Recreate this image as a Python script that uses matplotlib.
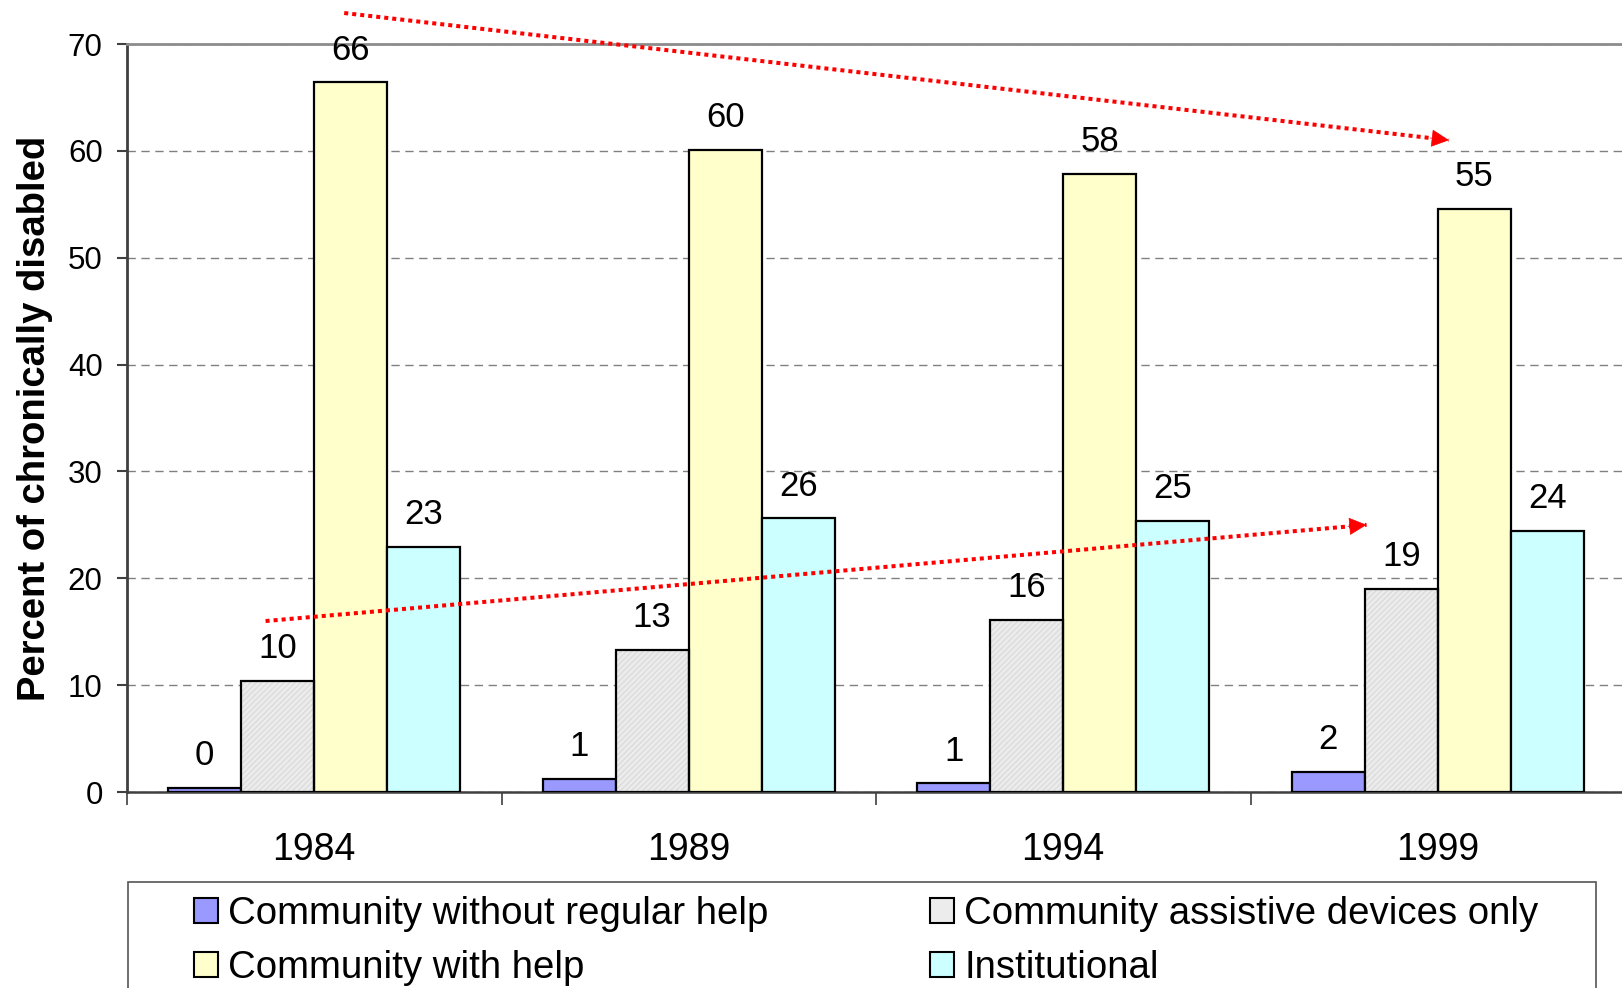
import numpy as np
import matplotlib
matplotlib.use('Agg')
import matplotlib.pyplot as plt
from matplotlib.patches import Patch, Rectangle

# Data
years = ['1984', '1989', '1994', '1999']
series_names = ['Community without regular help', 'Community assistive devices only',
                'Community with help', 'Institutional']
no_regular_help = [0.4, 1.2, 0.8, 1.9]
assistive_only = [10.4, 13.3, 16.1, 19.0]
with_help = [66.4, 60.1, 57.8, 54.6]
institutional = [22.9, 25.6, 25.4, 24.4]

# Trend arrows (data coords: category position, percent)
down_arrow = [(0.08, 72.9), (3.03, 61.0)]
up_arrow = [(-0.13, 16.0), (2.81, 25.0)]

colors = ['#9999FF', '#ECECEC', '#FFFFCC', '#CCFFFF']

plt.rcParams['font.family'] = ['Liberation Sans', 'DejaVu Sans']

W, H = 1622, 988
fig = plt.figure(figsize=(W / 100, H / 100), dpi=100)
fig.patch.set_facecolor('white')
ax = fig.add_axes([127 / W, 1 - 792 / H, (1625 - 127) / W, (792 - 44) / H])

x = np.arange(len(years))
w = 0.195
all_series = [no_regular_help, assistive_only, with_help, institutional]
for i, (vals, col) in enumerate(zip(all_series, colors)):
    pos = x + (i - 1.5) * w
    if i == 1:
        # light hatched fill, then a black outline
        ax.bar(pos, vals, w, color=col, edgecolor='#dcdcdc', linewidth=0,
               hatch='//////', zorder=3)
        ax.bar(pos, vals, w, fill=False, edgecolor='black', linewidth=1.6, zorder=4)
    else:
        ax.bar(pos, vals, w, color=col, edgecolor='black', linewidth=1.6, zorder=3)
    for xp, v in zip(pos, vals):
        ax.annotate(f"{v:.0f}", (xp, v), xytext=(0, 16.5), textcoords='offset points',
                    ha='center', va='baseline', fontsize=25, zorder=5)

ax.set_xlim(-0.5, 3.5)
ax.set_ylim(0, 70)
ax.set_yticks(range(0, 71, 10))
ax.tick_params(axis='y', labelsize=22.5, length=7.5, width=1.5, color='#404040', pad=10)

ax.set_xticks([-0.5, 0.5, 1.5, 2.5, 3.5])
ax.set_xticklabels([])
ax.set_xticks(x, minor=True)
ax.set_xticklabels(years, minor=True)
ax.tick_params(axis='x', which='major', length=9, width=1.2, color='#404040', direction='out')
ax.tick_params(axis='x', which='minor', length=0, labelsize=27, pad=29)

ax.yaxis.grid(True, color='#808080', linestyle=(0, (6, 4)), linewidth=1, zorder=0)
ax.set_axisbelow(True)
ax.spines['right'].set_visible(False)
ax.spines['top'].set_color('#8c8c8c')
ax.spines['top'].set_linewidth(2)
ax.spines['left'].set_color('#404040')
ax.spines['left'].set_linewidth(2)
ax.spines['bottom'].set_color('#404040')
ax.spines['bottom'].set_linewidth(1.8)

ax.set_ylabel('Percent of chronically disabled', fontsize=27.5, fontweight='bold')
ax.yaxis.set_label_coords(-0.0495, 0.5)

# Trend arrows
for (x0, y0), (x1, y1) in [down_arrow, up_arrow]:
    ax.plot([x0, x1], [y0, y1], color='red', linewidth=2.9, linestyle=(0, (1, 1)),
            clip_on=False, zorder=6)
    dx, dy = x1 - x0, y1 - y0
    ax.annotate('', xy=(x1, y1),
                xytext=(x1 - 0.05 * dx / abs(dx), y1 - 0.05 * dy / abs(dx)),
                arrowprops=dict(arrowstyle='-|>', color='red', lw=0.5,
                                mutation_scale=29, shrinkA=0, shrinkB=0),
                annotation_clip=False, zorder=6)

# Legend (row-major order) and its frame
handles = [Patch(facecolor=c, edgecolor='black', linewidth=1.5) for c in colors]
order = [0, 2, 1, 3]
fs = 27.6
fig.legend([handles[i] for i in order], [series_names[i] for i in order],
           loc='upper left', bbox_to_anchor=(194 / W, 1 - 896 / H), ncol=2,
           frameon=False, fontsize=fs, borderpad=0, borderaxespad=0,
           handlelength=0.63, handleheight=0.63, handletextpad=0.27,
           columnspacing=4.2, labelspacing=0.48)
fig.add_artist(Rectangle((128 / W, -0.05), (1596 - 128) / W, 0.05 + (988 - 882) / H,
                         transform=fig.transFigure, fill=False,
                         edgecolor='#555555', linewidth=1.2))

plt.savefig('out.png', dpi=100, facecolor='white')
